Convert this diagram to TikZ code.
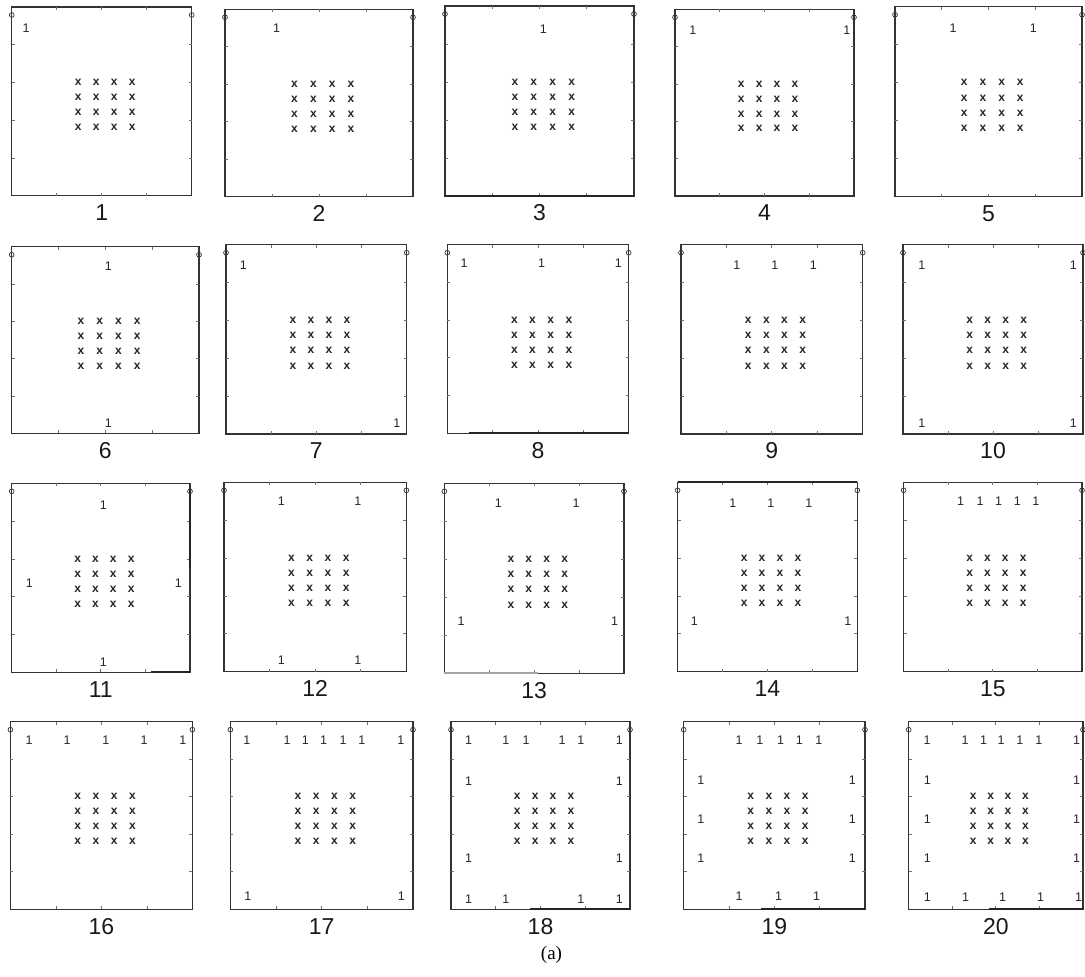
\documentclass[tikz,border=0pt]{standalone}
\usepackage{fontspec}
\setmainfont{Liberation Sans}
\newfontfamily\serifa{Liberation Serif}
\usetikzlibrary{calc}
\tikzset{
 frame/.style={draw=black!80, line width=1.1pt},
 tickmark/.style={draw=black!55, line width=0.8pt},
 cornerc/.style={draw=black!80, line width=0.7pt},
 xm/.style={font=\fontsize{12}{12}\selectfont\bfseries, text=black!85, inner sep=0pt},
 one/.style={font=\fontsize{12.5}{13}\selectfont, text=black!85, inner sep=0pt},
 lab/.style={font=\fontsize{23}{23}\selectfont, text=black!90, inner sep=0pt},
 thickseg/.style={draw=black!85, line width=2.2pt},
 greyseg/.style={draw=black!35, line width=2pt},
}
\newcommand\drawpanel[7]{%
 \pgfmathsetmacro\pw{#4-#2}\pgfmathsetmacro\ph{#5-#3}%
 \begin{scope}[shift={(#2,#3)}, x=\pw pt, y=-\ph pt]
  \draw[frame] (0,0) rectangle (1,1);
  \foreach \t in {0.25,0.5,0.75}{\draw[tickmark] (\t,0) -- ++(0,-3pt); \draw[tickmark] (\t,1) -- ++(0,3pt);}
  \foreach \t in {0.2,0.4,0.6,0.8}{\draw[tickmark] (0,\t) -- ++(3pt,0); \draw[tickmark] (1,\t) -- ++(-3pt,0);}
  \draw[cornerc] ($(0,0)+(0,-8pt)$) circle[radius=2.4pt];
  \draw[cornerc] ($(1,0)+(0,-8pt)$) circle[radius=2.4pt];
  \foreach \a [count=\i] in {0.37,0.47,0.57,0.67}{\foreach \b [count=\j] in {0.40,0.48,0.56,0.64}{\node[xm] (p#1x\i\j) at (\a,\b) {x};}}
  \foreach \a/\b [count=\k] in {#7}{\node[one] (p#1one\k) at (\a,\b) {1};}
  \node[lab] (p#1lab) at ($(0.5,1)+(0,-17pt)$) {#6};
 \end{scope}}
\begin{document}
\begin{tikzpicture}[x=1pt,y=-1pt]
\useasboundingbox[fill=white] (0,0) rectangle (1085,977);
% row 1
\drawpanel{1}{11.7}{7}{191.7}{195.7}{1}{0.08/0.11}
\drawpanel{2}{225}{9.3}{413}{196.7}{2}{0.275/0.10}
\drawpanel{3}{445}{6}{634}{196}{3}{0.52/0.12}
\drawpanel{4}{675}{9.3}{854}{196}{4}{0.10/0.11, 0.96/0.11}
\drawpanel{5}{895}{6.7}{1082}{196.7}{5}{0.31/0.115, 0.74/0.115}
% row 2
\drawpanel{6}{11.7}{246.7}{199}{433.3}{6}{0.516/0.107, 0.516/0.946}
\drawpanel{7}{226}{244.7}{406.7}{434}{7}{0.096/0.107, 0.945/0.943}
\drawpanel{8}{447.3}{244.7}{628.7}{433.3}{8}{0.092/0.10, 0.52/0.10, 0.943/0.10}
\drawpanel{9}{681}{244.7}{862.7}{434}{9}{0.307/0.107, 0.517/0.107, 0.728/0.107}
\drawpanel{10}{903}{244.7}{1083}{434}{10}{0.104/0.107, 0.946/0.107, 0.104/0.943, 0.946/0.943}
% row 3
\drawpanel{11}{11.7}{483.3}{190}{672.3}{11}{0.514/0.115, 0.514/0.944, 0.099/0.529, 0.934/0.529}
\drawpanel{12}{224}{482.3}{406.4}{671.7}{12}{0.315/0.102, 0.734/0.102, 0.315/0.938, 0.734/0.938}
\drawpanel{13}{444.4}{483.3}{624}{673.3}{13}{0.30/0.105, 0.733/0.105, 0.093/0.728, 0.948/0.728}
\drawpanel{14}{677.6}{482.3}{857.3}{671.7}{14}{0.308/0.111, 0.519/0.111, 0.73/0.111, 0.093/0.731, 0.947/0.731}
\drawpanel{15}{903.6}{482.3}{1082}{671.7}{15}{0.32/0.102, 0.429/0.102, 0.532/0.102, 0.638/0.102, 0.741/0.102}
% row 4
\drawpanel{16}{10.4}{721.7}{192.4}{909.3}{16}{0.103/0.098, 0.312/0.098, 0.525/0.098, 0.734/0.098, 0.947/0.098}
\drawpanel{17}{230.4}{721.7}{413}{909.3}{17}{0.09/0.10, 0.31/0.10, 0.41/0.10, 0.51/0.10, 0.617/0.10, 0.72/0.10, 0.934/0.10, 0.095/0.93, 0.936/0.93}
\drawpanel{18}{451}{721.7}{630}{909.3}{18}{0.098/0.10, 0.307/0.10, 0.42/0.10, 0.62/0.10, 0.726/0.10, 0.94/0.10, 0.098/0.315, 0.94/0.315, 0.098/0.73, 0.94/0.73, 0.098/0.948, 0.307/0.948, 0.726/0.948, 0.94/0.948}
\drawpanel{19}{683.7}{721.7}{865}{909.3}{19}{0.306/0.10, 0.42/0.10, 0.534/0.10, 0.638/0.10, 0.745/0.10, 0.095/0.31, 0.93/0.31, 0.095/0.52, 0.93/0.52, 0.095/0.728, 0.93/0.728, 0.306/0.93, 0.523/0.93, 0.733/0.93}
\drawpanel{20}{908.7}{721.7}{1083}{909.3}{20}{0.106/0.10, 0.323/0.10, 0.43/0.10, 0.53/0.10, 0.637/0.10, 0.746/0.10, 0.963/0.10, 0.107/0.31, 0.963/0.31, 0.107/0.52, 0.963/0.52, 0.107/0.73, 0.963/0.73, 0.107/0.935, 0.327/0.935, 0.538/0.935, 0.757/0.935, 0.975/0.935}
% heavier border segments
\draw[thickseg] (445,196) -- (634,196);
\draw[thickseg] (469,433.3) -- (628.7,433.3);
\draw[thickseg] (190,489) -- (190,568);
\draw[thickseg] (151,672.3) -- (190,672.3);
\draw[greyseg] (444.4,673.3) -- (538,673.3);
\draw[thickseg] (677.6,482.3) -- (857.3,482.3);
\draw[thickseg] (530,909.3) -- (630,909.3);
\draw[thickseg] (761,909.3) -- (865,909.3);
\draw[thickseg] (989,909.3) -- (1083,909.3);
\node[font=\serifa\fontsize{19}{19}\selectfont] (caption) at (551.5,955) {(a)};
\end{tikzpicture}
\end{document}
